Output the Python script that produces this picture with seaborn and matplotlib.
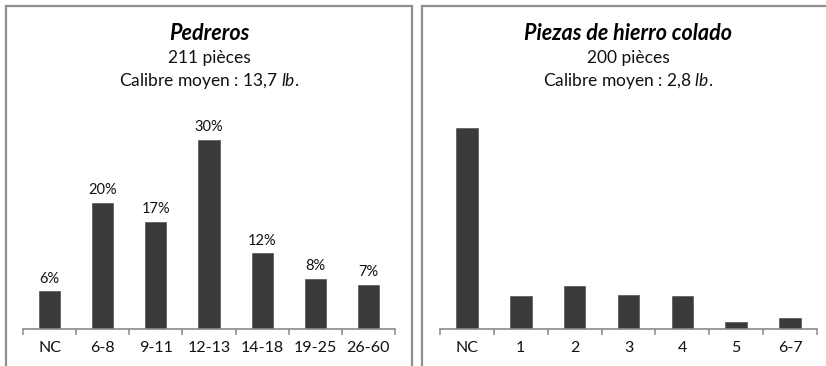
import matplotlib
matplotlib.use("Agg")
import matplotlib.pyplot as plt
from matplotlib.patches import Rectangle
import pandas as pd
import seaborn as sns

# Pedreros: share of pieces by calibre (lb.)
pedreros_cats = ["NC", "6-8", "9-11", "12-13", "14-18", "19-25", "26-60"]
pedreros_pct = [6, 20, 17, 30, 12, 8, 7]

# Cast-iron pieces: share of pieces by calibre (lb.)
hierro_cats = ["NC", "1", "2", "3", "4", "5", "6-7"]
hierro_pct = [55.5, 9, 12, 9.5, 9, 2, 3]

titles = ["Pedreros", "Piezas de hierro colado"]
counts = ["211 pièces", "200 pièces"]
calibres = ["13,7", "2,8"]

sns.set_theme(style="white")
plt.rcParams["font.family"] = ["Lato", "DejaVu Sans"]
plt.rcParams["mathtext.fontset"] = "custom"
plt.rcParams["mathtext.rm"] = "Lato"
plt.rcParams["mathtext.it"] = "Lato:italic"

W, H = 826, 366
fig = plt.figure(figsize=(W / 100, H / 100), dpi=100)

BAR = "#3a3a3a"
AXC = "#8a8a8a"
FRAME = "#8f8f8f"


def fx(px):
    return px / W


def fy(py):
    return 1 - py / H


# panel frames
for x0, x1 in [(6, 412), (422, 840)]:
    fig.patches.append(Rectangle((fx(x0), fy(380)), fx(x1 - x0), (380 - 6) / H,
                                 transform=fig.transFigure, fill=False,
                                 edgecolor=FRAME, linewidth=1.6, zorder=0))

panels = [
    dict(cats=pedreros_cats, vals=pedreros_pct, left=23, right=395, ymax=35,
         top=329 - 35 * 6.3, labels=True, cx=209),
    dict(cats=hierro_cats, vals=hierro_pct, left=440, right=817, ymax=60,
         top=329 - 60 * 3.62, labels=False, cx=628),
]

base = 329
for i, p in enumerate(panels):
    ax = fig.add_axes([fx(p["left"]), fy(base), fx(p["right"] - p["left"]),
                       (base - p["top"]) / H])
    df = pd.DataFrame({"cat": p["cats"], "val": p["vals"]})
    sns.barplot(data=df, x="cat", y="val", order=p["cats"], color=BAR,
                saturation=1, width=0.4, ax=ax, edgecolor="#555555", linewidth=0.5)
    ax.set_xlim(-0.5, len(p["cats"]) - 0.5)
    ax.set_ylim(0, p["ymax"])
    ax.set_xlabel("")
    ax.set_ylabel("")
    ax.set_yticks([])
    for s in ["left", "right", "top"]:
        ax.spines[s].set_visible(False)
    ax.spines["bottom"].set_color(AXC)
    ax.spines["bottom"].set_linewidth(1.2)
    ax.set_xticks(range(len(p["cats"])))
    ax.set_xticklabels(p["cats"], fontsize=11.5, color="#111111")
    ax.set_xticks([k - 0.5 for k in range(len(p["cats"]) + 1)], minor=True)
    ax.tick_params(axis="x", which="major", length=0, pad=9)
    ax.tick_params(axis="x", which="minor", length=4, width=1.1, color=AXC,
                   direction="out", bottom=True)
    ax.set_facecolor("none")
    if p["labels"]:
        for k, v in enumerate(p["vals"]):
            ax.annotate(f"{v:g}%", (k, v), xytext=(0, 4), textcoords="offset points",
                        ha="center", va="bottom", fontsize=10.5, color="#111111")

    fig.text(fx(p["cx"]), fy(33), titles[i], ha="center", va="center",
             fontsize=15.5, fontweight="bold", fontstyle="italic", color="black")
    fig.text(fx(p["cx"]), fy(58), counts[i], ha="center", va="center",
             fontsize=12.5, color="#111111")
    fig.text(fx(p["cx"]), fy(81), f"Calibre moyen : {calibres[i]} $\\mathit{{lb}}$.",
             ha="center", va="center", fontsize=12.5, color="#111111")

fig.savefig("out.png", dpi=100, facecolor="white")
